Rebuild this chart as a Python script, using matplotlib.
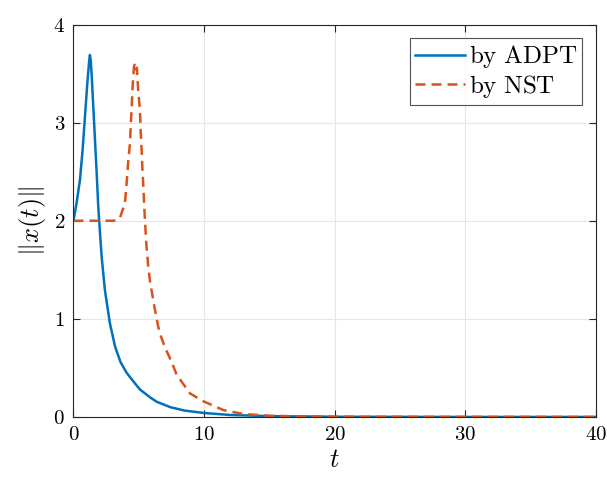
import numpy as np
import matplotlib.pyplot as plt

# values
t_adpt = [0, 0.24, 0.5, 0.7, 0.88, 1.06, 1.21, 1.26, 1.32, 1.39, 1.52, 1.65,
          1.78, 1.9, 2.03, 2.16, 2.41, 2.79, 3.18, 3.6, 4.07, 4.6, 5.09, 5.86,
          6.37, 7.4, 8.5, 10, 12, 15, 20, 30, 40]
x_adpt = [2.0, 2.18, 2.42, 2.72, 3.06, 3.40, 3.64, 3.69, 3.64, 3.50, 3.16,
          2.82, 2.48, 2.14, 1.88, 1.63, 1.29, 0.955, 0.72, 0.56, 0.45, 0.36,
          0.28, 0.2, 0.155, 0.1, 0.065, 0.04, 0.02, 0.008, 0.002, 0.0, 0.0]

t_nst = [0, 3.0, 3.3, 3.56, 3.94, 4.07, 4.2, 4.33, 4.38, 4.46, 4.53, 4.63,
         4.68, 4.76, 4.85, 4.96, 5.09, 5.14, 5.22, 5.27, 5.35, 5.42, 5.5,
         5.6, 5.73, 5.86, 6.11, 6.24, 6.49, 6.62, 7.0, 7.52, 7.9, 8.92, 9.94,
         11.47, 13, 15, 18, 22, 40]
x_nst = [2.0, 2.0, 2.005, 2.03, 2.18, 2.38, 2.62, 2.79, 2.96, 3.16, 3.37,
         3.57, 3.59, 3.53, 3.56, 3.32, 3.13, 2.93, 2.72, 2.55, 2.35, 2.14,
         1.94, 1.72, 1.53, 1.38, 1.19, 1.09, 0.92, 0.85, 0.71, 0.56, 0.43,
         0.24, 0.16, 0.07, 0.03, 0.012, 0.004, 0.001, 0.0]

plt.rcParams['mathtext.fontset'] = 'cm'
plt.rcParams['font.family'] = 'serif'
plt.rcParams['font.serif'] = ['DejaVu Serif']

fig = plt.figure(figsize=(6.07, 4.82), dpi=100)
ax = fig.add_axes([0.121, 0.135, 0.861, 0.814])

ax.plot(t_adpt, x_adpt, color='#0072BD', lw=1.8, label=r'$\mathrm{by\ ADPT}$')
ax.plot(t_nst, x_nst, color='#D95319', lw=1.8, ls=(0, (4, 2.4)),
        label=r'$\mathrm{by\ NST}$')

ax.set_xlim(0, 40)
ax.set_ylim(0, 4)
ax.set_xticks([0, 10, 20, 30, 40])
ax.set_yticks([0, 1, 2, 3, 4])
ax.set_xticklabels([f'${v}$' for v in [0, 10, 20, 30, 40]])
ax.set_yticklabels([f'${v}$' for v in [0, 1, 2, 3, 4]])
ax.tick_params(direction='in', labelsize=15, length=5, width=0.8,
               color='#262626', top=True, right=True, pad=6)
for s in ax.spines.values():
    s.set_color('#262626')
    s.set_linewidth(0.8)
ax.grid(True, color='#e6e6e6', lw=0.8)
ax.set_axisbelow(True)

ax.set_xlabel(r'$t$', fontsize=19, labelpad=2)
ax.set_ylabel(r'$\|x(t)\|$', fontsize=19, labelpad=4)

leg = ax.legend(loc='upper right', fontsize=18, frameon=True, fancybox=False,
                edgecolor='#262626', handlelength=2.0, handletextpad=0.15,
                borderaxespad=0.55, borderpad=0.2, labelspacing=0.1)
leg.get_frame().set_linewidth(0.8)

fig.savefig('out.png', dpi=100)
